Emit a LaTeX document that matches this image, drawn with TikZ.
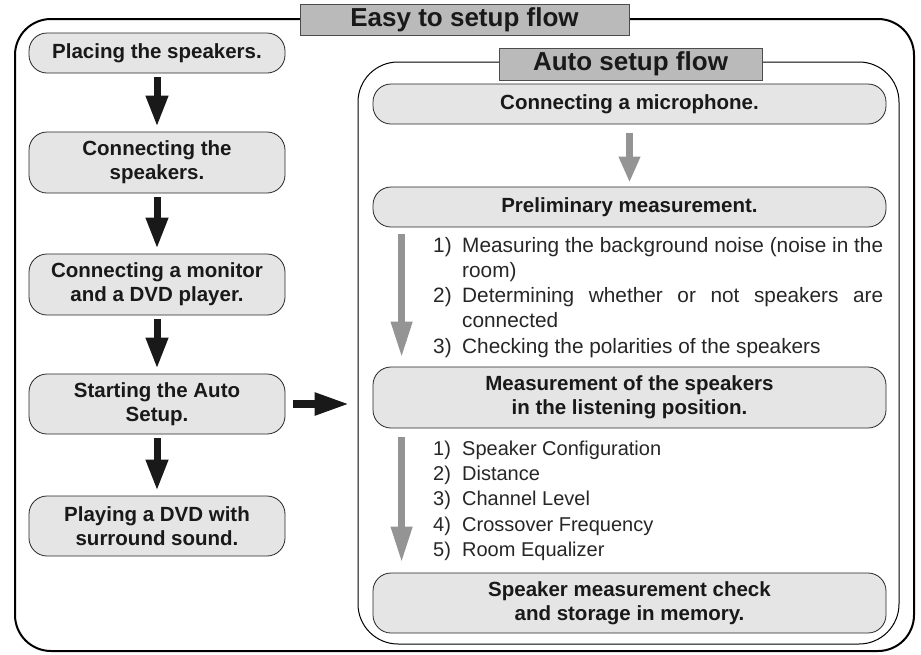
\documentclass[tikz,border=0pt]{standalone}
\usepackage{fontspec}
\setmainfont{Liberation Sans}
\usetikzlibrary{arrows.meta}
\newcommand\stepitem[2]{\hangindent=29pt\hangafter=1\noindent\makebox[29pt][l]{#1}#2\par}
\begin{document}
\begin{tikzpicture}[x=1pt,y=-1pt,
	box/.style={draw=black!85,line width=0.8pt,fill=black!10,rounded corners=18pt,minimum width=256pt,inner sep=0pt,align=center,text=black!90,font=\fontsize{20.5}{24}\selectfont\bfseries},
	widebox/.style={box,minimum width=513pt},
	title/.style={draw=black!70,line width=0.8pt,fill=black!27,inner sep=0pt,text=black!90,font=\fontsize{26}{30}\selectfont\bfseries},
	blackarrow/.style={line width=7pt,black!90,-{Triangle[length=31pt,width=21pt]}},
	grayarrow/.style={line width=7pt,black!42,-{Triangle[length=36pt,width=20pt]}},
	listtext/.style={anchor=base west,inner sep=0pt,align=justify,text width=450pt,text=black!85}]
	\useasboundingbox (0,0) rectangle (921,654);
	\draw[line width=2pt,rounded corners=36pt] (15,19) rectangle (914,651);
	\draw[line width=1pt,rounded corners=40pt] (358,62) rectangle (899,644);
	\node[title,minimum width=329pt,minimum height=31pt] (easy) at (464.5,19.5) {Easy to setup flow};
	\node[title,minimum width=263pt,minimum height=32pt] (auto) at (630.5,64) {Auto setup flow};
	\node[box,minimum height=40pt] (place) at (157,53) {Placing the speakers.};
	\node[box,minimum height=61pt] (wire) at (157,162.5) {Connecting the\\speakers.};
	\node[box,minimum height=61pt] (monitor) at (157,284.5) {Connecting a monitor\\and a DVD player.};
	\node[box,minimum height=60pt] (start) at (157,404) {Starting the Auto\\Setup.};
	\node[box,minimum height=60pt] (play) at (157,526) {Playing a DVD with\\surround sound.};
	\node[widebox,minimum height=40pt] (mic) at (629.5,104) {Connecting a microphone.};
	\node[widebox,minimum height=40pt] (prelim) at (629.5,207) {Preliminary measurement.};
	\node[widebox,minimum height=61pt] (measure) at (629.5,397.5) {Measurement of the speakers\\in the listening position.};
	\node[widebox,minimum height=60pt] (check) at (629.5,603) {Speaker measurement check\\and storage in memory.};
	\node[listtext,font=\fontsize{20.8}{25.3}\selectfont] (noise) at (433,252) {\stepitem{1)}{Measuring the background noise (noise in the\linebreak room)}\stepitem{2)}{Determining whether or not speakers are\linebreak connected}\stepitem{3)}{Checking the polarities of the speakers}};
	\node[listtext,font=\fontsize{20}{25.4}\selectfont] (params) at (433,455) {\stepitem{1)}{Speaker Configuration}\stepitem{2)}{Distance}\stepitem{3)}{Channel Level}\stepitem{4)}{Crossover Frequency}\stepitem{5)}{Room Equalizer}};
	\foreach \a/\b in {place/wire,wire/monitor,monitor/start,start/play}
		\draw[blackarrow,shorten <=4pt,shorten >=5pt] (\a) -- (\b);
	\draw[blackarrow,line width=8pt,-{Triangle[length=35pt,width=21pt]},shorten <=8pt,shorten >=23pt] (start.east) -- (start.east -| measure.west);
	\draw[grayarrow,-{Triangle[length=26pt,width=20pt]},shorten <=9pt,shorten >=4pt] (mic) -- (prelim);
	\draw[grayarrow,shorten <=7pt,shorten >=9pt] ([xshift=29pt]prelim.south west) -- ([xshift=29pt]measure.north west);
	\draw[grayarrow,shorten <=9pt,shorten >=10pt] ([xshift=29pt]measure.south west) -- ([xshift=29pt]check.north west);
\end{tikzpicture}
\end{document}
